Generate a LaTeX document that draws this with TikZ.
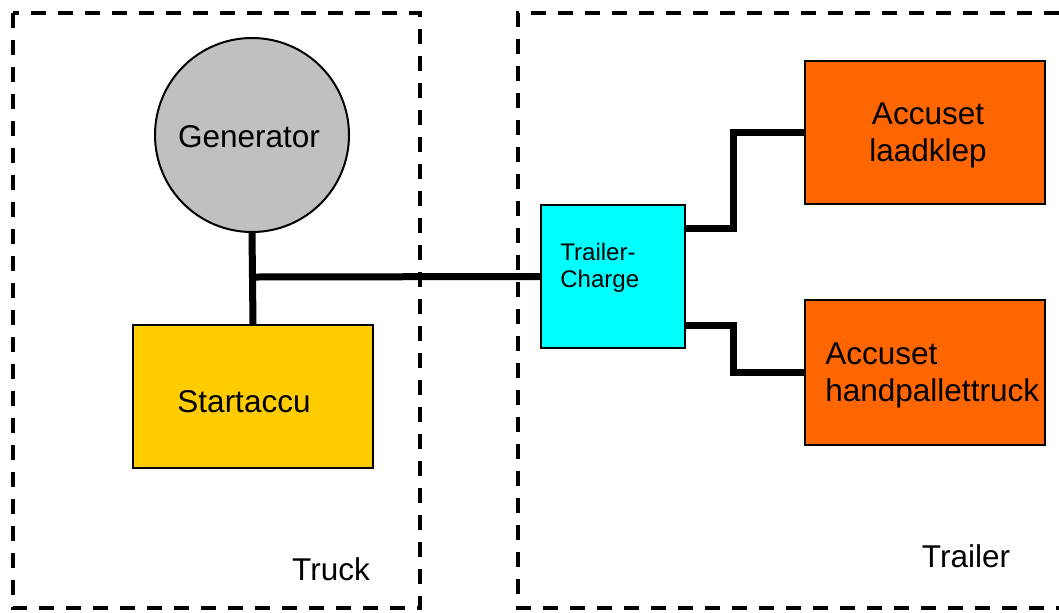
\documentclass[tikz,border=0pt]{standalone}
\usepackage{fontspec}
\setmainfont{Liberation Sans}
\usetikzlibrary{calc}
\definecolor{gengray}{HTML}{C0C0C0}
\definecolor{accuyellow}{HTML}{FFCC00}
\definecolor{chargecyan}{HTML}{00FFFF}
\definecolor{accuorange}{HTML}{FF6600}
\tikzset{
  zone/.style={line width=1.9pt, dash pattern=on 7.5pt off 6pt},
  unitbox/.style={draw=black, line width=1pt, rectangle, inner sep=0pt},
  bigtxt/.style={inner sep=0pt, font=\fontsize{15.75}{18.5}\selectfont},
  smalltxt/.style={inner sep=0pt, font=\fontsize{12}{13.5}\selectfont},
  cable/.style={line width=3.5pt, line join=miter},
}
\begin{document}
\begin{tikzpicture}[x=0.5pt, y=-0.5pt]
\useasboundingbox (0,0) rectangle (1059,612);
\fill[white] (0,0) rectangle (1059,612);
% zones
\draw[zone] (13,13) rectangle (420,608);
\draw[zone] (1059,13) -- (518,13) -- (518,608) -- (1059,608);
\node[bigtxt] (trucklbl) at (331,569) {Truck};
\node[bigtxt] (trailerlbl) at (966,556) {Trailer};
% units
\node[unitbox, circle, fill=gengray, minimum size=97pt] (gen) at (252,135) {};
\node[bigtxt] (genT) at (249,137) {Generator};
\node[unitbox, fill=accuyellow, minimum width=120pt, minimum height=71.5pt] (start) at (253,396.5) {};
\node[bigtxt] (startT) at (244,402) {Startaccu};
\node[unitbox, fill=chargecyan, minimum width=72pt, minimum height=71.5pt] (charge) at (613,276.5) {};
\node[smalltxt, align=left, anchor=west] (chargeT) at (560,268) {Trailer-\\Charge};
\node[unitbox, fill=accuorange, minimum width=120pt, minimum height=71.5pt] (lak) at (925,132.5) {};
\node[bigtxt, align=center] (lakT) at (928,135) {Accuset\\laadklep};
\node[unitbox, fill=accuorange, minimum width=120pt, minimum height=72.5pt] (hpt) at (925,372.5) {};
\node[bigtxt, align=left, anchor=west] (hptT) at (825,375) {Accuset\\handpallettruck};
% cables
\coordinate (junc) at (253,277);
\coordinate (up) at (733,228);
\coordinate (lo) at (733,325);
\draw[cable] (gen.south) -- (start.north);
\draw[cable] (junc) -- (charge.west);
\draw[cable] (charge.east |- up) -- (up) |- (lak.west);
\draw[cable] (charge.east |- lo) -- (lo) |- (hpt.west);
\end{tikzpicture}
\end{document}
